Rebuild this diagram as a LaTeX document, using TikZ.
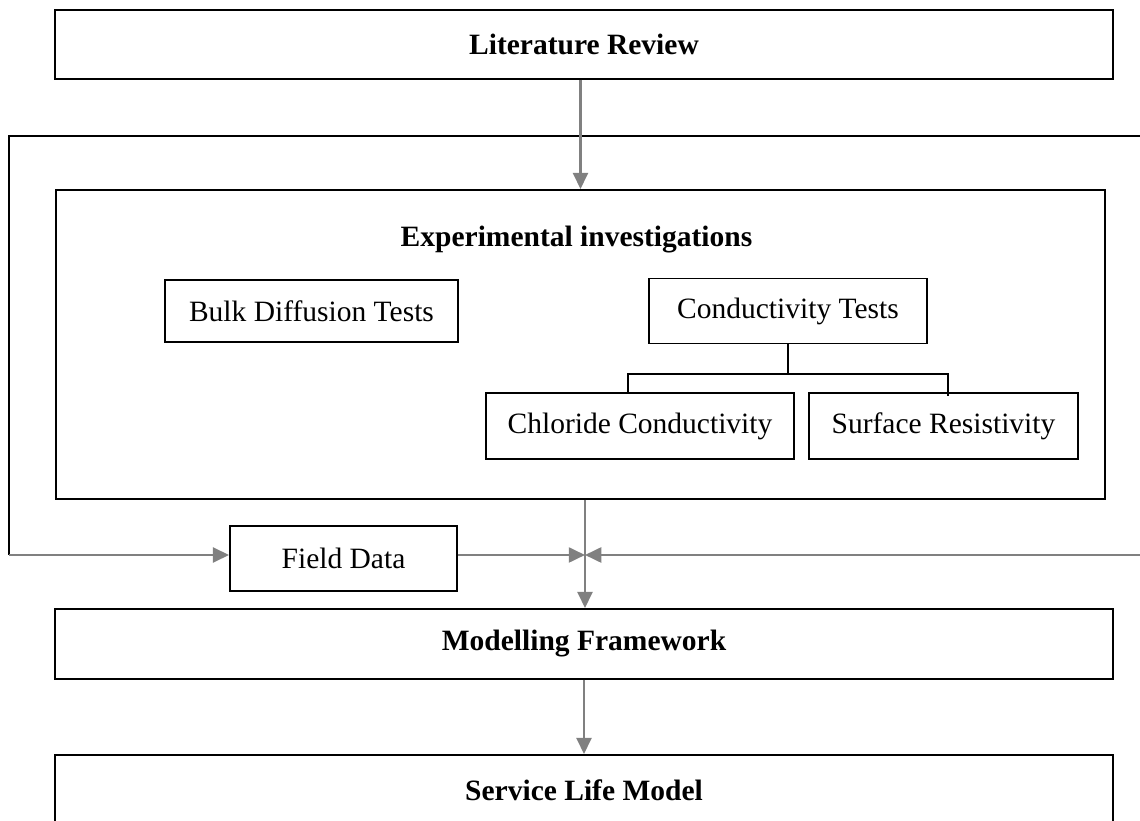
\documentclass[tikz,border=0pt]{standalone}
\usepackage{fontspec}
\setmainfont{Liberation Serif}
\usepackage{tikz}
\usetikzlibrary{arrows.meta,positioning,calc}
\definecolor{linkgray}{RGB}{128,128,128}

\begin{document}
\begin{tikzpicture}[x=1pt, y=1pt, node distance=2cm,
    every node/.style={draw, rectangle, line width=0.75pt, inner sep=0pt, align=center, font=\fontsize{11.8pt}{14pt}\selectfont},
    head/.style={font=\fontsize{11.8pt}{14pt}\selectfont\bfseries},
    link/.style={draw=linkgray, line width=1pt, -{Triangle[length=6.5pt, width=6pt]}},
    frame/.style={line width=0.75pt},
    tree/.style={line width=0.75pt}]
    \useasboundingbox (0,0) rectangle (456,-328.4);

    \node [head, minimum width=423.2pt, minimum height=27.6pt] (lit) at (233.6,-17.8) {Literature Review};
    \node [minimum width=419.6pt, minimum height=123.6pt] (exp) at (232.2,-137.8) {};
    \node [head, draw=none] (exptitle) at (230.6,-95.8) {Experimental investigations};

    \node [minimum width=117.2pt, minimum height=24.8pt] (bulk) at (124.6,-124.4) {Bulk Diffusion Tests};
    \node [right of=bulk, node distance=190.6pt, minimum width=111.2pt, minimum height=26pt] (cond) {Conductivity Tests};
    \node [minimum width=123.2pt, minimum height=26.4pt] (chlor) at (256,-170.4) {Chloride Conductivity};
    \node [right of=chlor, node distance=121.4pt, minimum width=107.6pt, minimum height=26.4pt] (surf) {Surface Resistivity};

    \node [minimum width=90.8pt, minimum height=26pt] (field) at (137.4,-223.4) {Field Data};
    \node [head, below of=lit, node distance=239.8pt, minimum width=423.2pt, minimum height=28pt] (model) {Modelling Framework};
    \node [head, below of=model, node distance=58.4pt, minimum width=423.2pt, minimum height=28pt] (serv) {Service Life Model};

    \coordinate (topright) at (456,-54.4);
    \coordinate (corner) at (3.6,-222);
    \coordinate (rightend) at (456,-222);
    \coordinate (join) at (234,-222);
    \coordinate (busl) at (251.2,-149.6);
    \coordinate (busr) at (379.2,-149.6);

    % outer loop
    \draw [frame] (topright) -| (corner);

    \draw [link] (exp.north |- lit.south) -- (exp.north);
    \draw [tree] (cond) -- (cond |- busl);
    \draw [tree] (busl |- chlor.north) |- (busr) -- ($(busr |- surf.north)+(0,-1.6)$);

    \draw [link] (corner) -- (corner -| field.west);
    \draw [link] (field.east |- join) -- (join);
    \draw [link] (rightend) -- (join);
    \draw [link] (exp.south -| join) -- (model.north -| join);
    \draw [link] (model) -- (serv);
\end{tikzpicture}
\end{document}
